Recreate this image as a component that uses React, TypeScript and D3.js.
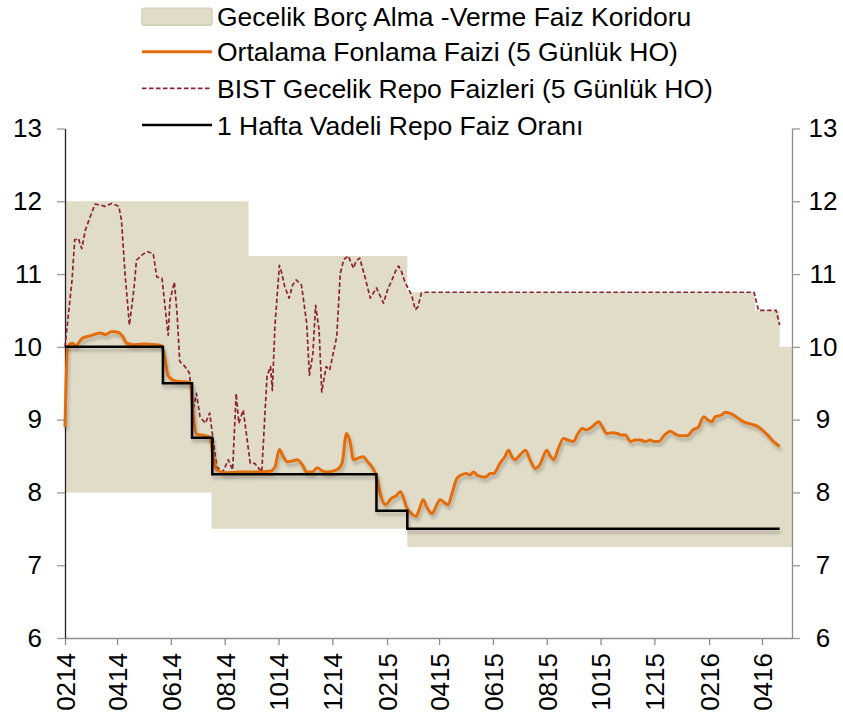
import React, { useEffect, useRef } from "react";
import * as d3 from "d3";

// corridor (overnight borrowing / lending), step data
const corridorDates = ["2014-02-01", "2014-07-17", "2014-08-28", "2015-02-24", "2016-03-24", "2016-04-21", "2016-05-05"];
const corridorLow = [8, 7.5, 7.5, 7.25, 7.25, 7.25, 7.25];
const corridorHigh = [12, 12, 11.25, 10.75, 10.5, 10, 10];

// one-week repo rate, step data
const repoDates = ["2014-02-01", "2014-05-23", "2014-06-25", "2014-07-18", "2015-01-20", "2015-02-24", "2016-04-21"];
const repoRates = [10, 9.5, 8.75, 8.25, 7.75, 7.5, 7.5];

// average funding rate (5 day MA)
const fundDates = [
  "2014-02-01", "2014-02-04", "2014-02-09", "2014-02-13", "2014-02-21", "2014-03-01", "2014-03-13", "2014-03-19", "2014-03-26",
  "2014-04-02", "2014-04-07", "2014-04-12", "2014-04-21", "2014-05-03", "2014-05-14", "2014-05-21", "2014-05-25", "2014-05-29",
  "2014-06-06", "2014-06-17", "2014-06-23", "2014-06-26", "2014-06-30", "2014-07-10", "2014-07-15", "2014-07-19", "2014-07-23",
  "2014-08-01", "2014-08-18", "2014-09-04", "2014-09-21", "2014-09-27", "2014-10-02", "2014-10-06", "2014-10-11", "2014-10-16",
  "2014-10-22", "2014-10-28", "2014-11-02", "2014-11-08", "2014-11-14", "2014-11-19", "2014-11-25", "2014-12-06", "2014-12-12",
  "2014-12-17", "2014-12-21", "2014-12-25", "2014-12-30", "2015-01-05", "2015-01-10", "2015-01-15", "2015-01-20", "2015-01-25",
  "2015-01-30", "2015-02-06", "2015-02-11", "2015-02-16", "2015-02-19", "2015-02-23", "2015-02-28", "2015-03-06", "2015-03-09",
  "2015-03-14", "2015-03-18", "2015-03-24", "2015-03-29", "2015-04-02", "2015-04-07", "2015-04-11", "2015-04-16", "2015-04-21",
  "2015-04-26", "2015-05-02", "2015-05-06", "2015-05-10", "2015-05-14", "2015-05-18", "2015-05-22", "2015-05-25", "2015-05-29",
  "2015-06-02", "2015-06-06", "2015-06-09", "2015-06-14", "2015-06-19", "2015-06-22", "2015-06-26", "2015-07-02", "2015-07-08",
  "2015-07-13", "2015-07-19", "2015-07-25", "2015-07-29", "2015-08-01", "2015-08-05", "2015-08-09", "2015-08-14", "2015-08-20",
  "2015-08-25", "2015-08-31", "2015-09-06", "2015-09-10", "2015-09-15", "2015-09-19", "2015-09-24", "2015-09-29", "2015-10-03",
  "2015-10-08", "2015-10-14", "2015-10-20", "2015-10-24", "2015-10-29", "2015-11-04", "2015-11-09", "2015-11-15", "2015-11-21",
  "2015-11-26", "2015-12-01", "2015-12-06", "2015-12-12", "2015-12-19", "2015-12-25", "2015-12-30", "2016-01-07", "2016-01-14",
  "2016-01-20", "2016-01-26", "2016-01-30", "2016-02-04", "2016-02-08", "2016-02-12", "2016-02-16", "2016-02-19", "2016-02-24",
  "2016-02-29", "2016-03-05", "2016-03-11", "2016-03-16", "2016-03-22", "2016-03-28", "2016-04-03", "2016-04-08", "2016-04-14",
  "2016-04-18", "2016-04-21",
];
const fundRates = [
  8.9, 10.0, 10.05, 10.02, 10.12, 10.15, 10.19, 10.17, 10.21,
  10.2, 10.15, 10.05, 10.03, 10.04, 10.03, 10.02, 9.85, 9.6,
  9.53, 9.52, 9.5, 9.1, 8.8, 8.78, 8.76, 8.5, 8.31,
  8.27, 8.28, 8.28, 8.29, 8.35, 8.59, 8.5, 8.42, 8.43,
  8.45, 8.38, 8.28, 8.28, 8.34, 8.3, 8.28, 8.31, 8.4,
  8.81, 8.7, 8.45, 8.47, 8.49, 8.42, 8.35, 8.22, 7.95,
  7.83, 7.92, 7.95, 8.01, 7.95, 7.8, 7.72, 7.67, 7.75,
  7.9, 7.8, 7.71, 7.82, 7.9, 7.86, 7.83, 8.0, 8.19,
  8.24, 8.26, 8.24, 8.28, 8.24, 8.22, 8.21, 8.22, 8.26,
  8.26, 8.33, 8.4, 8.48, 8.58, 8.5, 8.45, 8.52, 8.58,
  8.45, 8.33, 8.4, 8.52, 8.58, 8.5, 8.45, 8.6, 8.74,
  8.72, 8.7, 8.82, 8.88, 8.86, 8.88, 8.93, 8.97, 8.9,
  8.81, 8.82, 8.81, 8.79, 8.79, 8.7, 8.72, 8.72, 8.7,
  8.72, 8.7, 8.7, 8.78, 8.84, 8.8, 8.78, 8.78, 8.86,
  8.9, 9.04, 9.0, 8.97, 9.04, 9.05, 9.07, 9.1, 9.09,
  9.06, 9.02, 8.97, 8.95, 8.93, 8.9, 8.84, 8.78, 8.7,
  8.66, 8.63,
];

// BIST overnight repo (5 day MA)
const bistDates = [
  "2014-02-01", "2014-02-05", "2014-02-09", "2014-02-12", "2014-02-16", "2014-02-20", "2014-02-24", "2014-03-01", "2014-03-07",
  "2014-03-13", "2014-03-18", "2014-03-26", "2014-04-03", "2014-04-06", "2014-04-10", "2014-04-15", "2014-04-20", "2014-04-23",
  "2014-04-29", "2014-05-05", "2014-05-12", "2014-05-16", "2014-05-22", "2014-05-27", "2014-05-29", "2014-05-31", "2014-06-05",
  "2014-06-08", "2014-06-11", "2014-06-17", "2014-06-22", "2014-06-26", "2014-06-30", "2014-07-04", "2014-07-10", "2014-07-15",
  "2014-07-18", "2014-07-23", "2014-07-30", "2014-08-05", "2014-08-10", "2014-08-14", "2014-08-17", "2014-08-22", "2014-08-30",
  "2014-09-04", "2014-09-12", "2014-09-18", "2014-09-22", "2014-09-24", "2014-09-27", "2014-10-02", "2014-10-05", "2014-10-08",
  "2014-10-13", "2014-10-17", "2014-10-21", "2014-10-27", "2014-11-02", "2014-11-05", "2014-11-09", "2014-11-12", "2014-11-16",
  "2014-11-19", "2014-11-24", "2014-11-28", "2014-12-06", "2014-12-10", "2014-12-14", "2014-12-19", "2014-12-25", "2014-12-28",
  "2015-01-01", "2015-01-07", "2015-01-13", "2015-01-20", "2015-01-28", "2015-02-02", "2015-02-06", "2015-02-11", "2015-02-14",
  "2015-02-17", "2015-02-21", "2015-02-25", "2015-03-01", "2015-03-05", "2015-03-08", "2015-03-12", "2015-03-17", "2016-03-23",
  "2016-03-28", "2016-04-17", "2016-04-21",
];
const bistRates = [
  10.0, 10.46, 10.92, 11.47, 11.49, 11.35, 11.6, 11.77, 11.96,
  11.95, 11.93, 11.97, 11.93, 11.74, 11.01, 10.3, 10.78, 11.19,
  11.26, 11.31, 11.28, 10.96, 10.94, 10.37, 10.16, 10.64, 10.89,
  10.46, 9.8, 9.73, 9.64, 9.13, 9.36, 9.04, 8.95, 9.09,
  8.81, 8.35, 8.28, 8.45, 8.31, 9.36, 8.95, 9.13, 8.4,
  8.4, 8.28, 9.6, 9.73, 9.4, 10.3, 11.12, 11.0, 10.83,
  10.67, 10.85, 10.92, 10.85, 10.32, 9.61, 9.91, 10.57, 10.23,
  9.38, 9.73, 9.68, 10.14, 11.01, 11.2, 11.25, 11.08, 11.18,
  11.22, 10.96, 10.67, 10.81, 10.6, 10.8, 10.9, 11.05, 11.11,
  11.05, 10.9, 10.8, 10.71, 10.51, 10.55, 10.74, 10.75, 10.75,
  10.5, 10.5, 10.3,
];

const tickMonths = [
  "2014-02-01", "2014-04-01", "2014-06-01", "2014-08-01", "2014-10-01", "2014-12-01", "2015-02-01",
  "2015-04-01", "2015-06-01", "2015-08-01", "2015-10-01", "2015-12-01", "2016-02-01", "2016-04-01",
];
const tickLabels = ["0214", "0414", "0614", "0814", "1014", "1214", "0215", "0415", "0615", "0815", "1015", "1215", "0216", "0416"];
const yTicks = [6, 7, 8, 9, 10, 11, 12, 13];

const legendLabels = [
  "Gecelik Borç Alma -Verme Faiz Koridoru",
  "Ortalama Fonlama Faizi (5 Günlük HO)",
  "BIST Gecelik Repo Faizleri (5 Günlük HO)",
  "1 Hafta Vadeli Repo Faiz Oranı",
];

const W = 843;
const H = 720;
const FONT = "'Liberation Sans', Arial, sans-serif";
const BAND = "#E1DCC8";
const ORANGE = "#E36C0A";
const MAROON = "#8B2232";

const parse = d3.timeParse("%Y-%m-%d");

const App = () => {
  const ref = useRef<SVGSVGElement>(null);

  useEffect(() => {
    const svg = d3.select(ref.current);
    svg.selectAll("*").remove();

    const x = d3.scaleTime()
      .domain([parse("2014-02-01"), parse("2016-05-05")])
      .range([65, 792]);
    const y = d3.scaleLinear().domain([6, 13]).range([638, 128.5]);

    const defs = svg.append("defs");
    defs.append("filter")
      .attr("id", "shadow")
      .attr("x", "-5%").attr("y", "-10%").attr("width", "110%").attr("height", "130%")
      .append("feDropShadow")
      .attr("dx", 1.5).attr("dy", 3.5).attr("stdDeviation", 1.8)
      .attr("flood-color", "#000").attr("flood-opacity", 0.22);

    // corridor band
    const band = corridorDates.map((d, i) => ({ date: parse(d), lo: corridorLow[i], hi: corridorHigh[i] }));
    svg.append("path")
      .datum(band)
      .attr("fill", BAND)
      .attr("d", d3.area<any>()
        .x(d => x(d.date))
        .y0(d => y(d.lo))
        .y1(d => y(d.hi))
        .curve(d3.curveStepAfter));

    // axes
    const xAxis = svg.append("g")
      .attr("transform", "translate(0,638)")
      .call(d3.axisBottom(x)
        .tickValues(tickMonths.map(parse))
        .tickSize(7)
        .tickSizeOuter(0)
        .tickFormat((_, i) => tickLabels[i]));
    xAxis.select(".domain").attr("stroke", "#8c8c8c").attr("stroke-width", 1.3);
    xAxis.selectAll(".tick line").attr("stroke", "#8c8c8c").attr("stroke-width", 1.3);
    xAxis.selectAll(".tick text")
      .attr("transform", "rotate(-90)")
      .attr("text-anchor", "end")
      .attr("x", -15)
      .attr("y", 0)
      .attr("dy", "0.36em")
      .attr("fill", "#000")
      .style("font-size", "26px")
      .style("font-family", FONT);

    const yLeft = svg.append("g")
      .attr("transform", "translate(65,0)")
      .call(d3.axisLeft(y).tickValues(yTicks).tickSize(8).tickSizeOuter(0).tickPadding(15).tickFormat(d3.format("d")));
    yLeft.select(".domain").attr("stroke", "#222").attr("stroke-width", 1.3);
    yLeft.selectAll(".tick line").attr("stroke", "#999").attr("stroke-width", 1.3);
    yLeft.selectAll(".tick text")
      .attr("fill", "#000")
      .style("font-size", "26px")
      .style("font-family", FONT);

    const yRight = svg.append("g")
      .attr("transform", "translate(792,0)")
      .call(d3.axisRight(y).tickValues(yTicks).tickSize(8).tickSizeOuter(0).tickFormat(d3.format("d")));
    yRight.select(".domain").attr("stroke", "#8c8c8c").attr("stroke-width", 1.3);
    yRight.selectAll(".tick line").attr("stroke", "#999").attr("stroke-width", 1.3);
    yRight.selectAll(".tick text")
      .attr("x", 31)
      .attr("text-anchor", "middle")
      .attr("fill", "#000")
      .style("font-size", "26px")
      .style("font-family", FONT);

    // series
    const line = d3.line<any>().x(d => x(d.date)).y(d => y(d.v));

    svg.append("path")
      .datum(bistDates.map((d, i) => ({ date: parse(d), v: bistRates[i] })))
      .attr("fill", "none")
      .attr("stroke", MAROON)
      .attr("stroke-width", 1.7)
      .attr("stroke-dasharray", "4.5,2.5")
      .attr("stroke-linejoin", "round")
      .attr("d", line.curve(d3.curveLinear));

    svg.append("path")
      .datum(fundDates.map((d, i) => ({ date: parse(d), v: fundRates[i] })))
      .attr("fill", "none")
      .attr("stroke", ORANGE)
      .attr("stroke-width", 3)
      .attr("stroke-linejoin", "round")
      .attr("filter", "url(#shadow)")
      .attr("d", line.curve(d3.curveMonotoneX));

    svg.append("path")
      .datum(repoDates.map((d, i) => ({ date: parse(d), v: repoRates[i] })))
      .attr("fill", "none")
      .attr("stroke", "#000")
      .attr("stroke-width", 2.5)
      .attr("filter", "url(#shadow)")
      .attr("d", line.curve(d3.curveStepAfter));

    // legend
    const legend = svg.append("g")
      .style("font-family", FONT)
      .style("font-size", "26.5px");
    const rowY = [16.7, 51.7, 88.3, 125];
    legendLabels.forEach((label, i) => {
      const g = legend.append("g").attr("transform", `translate(0,${rowY[i]})`);
      if (i === 0) {
        g.append("rect")
          .attr("x", 142).attr("y", -8.5).attr("width", 70).attr("height", 17).attr("rx", 2)
          .attr("fill", BAND).attr("stroke", "#D5D0BA").attr("stroke-width", 1.5);
      } else {
        g.append("line")
          .attr("x1", 142).attr("x2", 212)
          .attr("stroke", i === 1 ? ORANGE : i === 2 ? MAROON : "#000")
          .attr("stroke-width", i === 1 ? 3 : i === 2 ? 1.7 : 2.5)
          .attr("stroke-dasharray", i === 2 ? "4.5,2.5" : null);
      }
      g.append("text")
        .attr("x", 217)
        .attr("dy", "0.36em")
        .attr("fill", "#000")
        .text(label);
    });
  }, []);

  return (
    <svg
      ref={ref}
      width={W}
      height={H}
      style={{ position: "absolute", left: 0, top: 0, background: "#fff" }}
    />
  );
};

export default App;
